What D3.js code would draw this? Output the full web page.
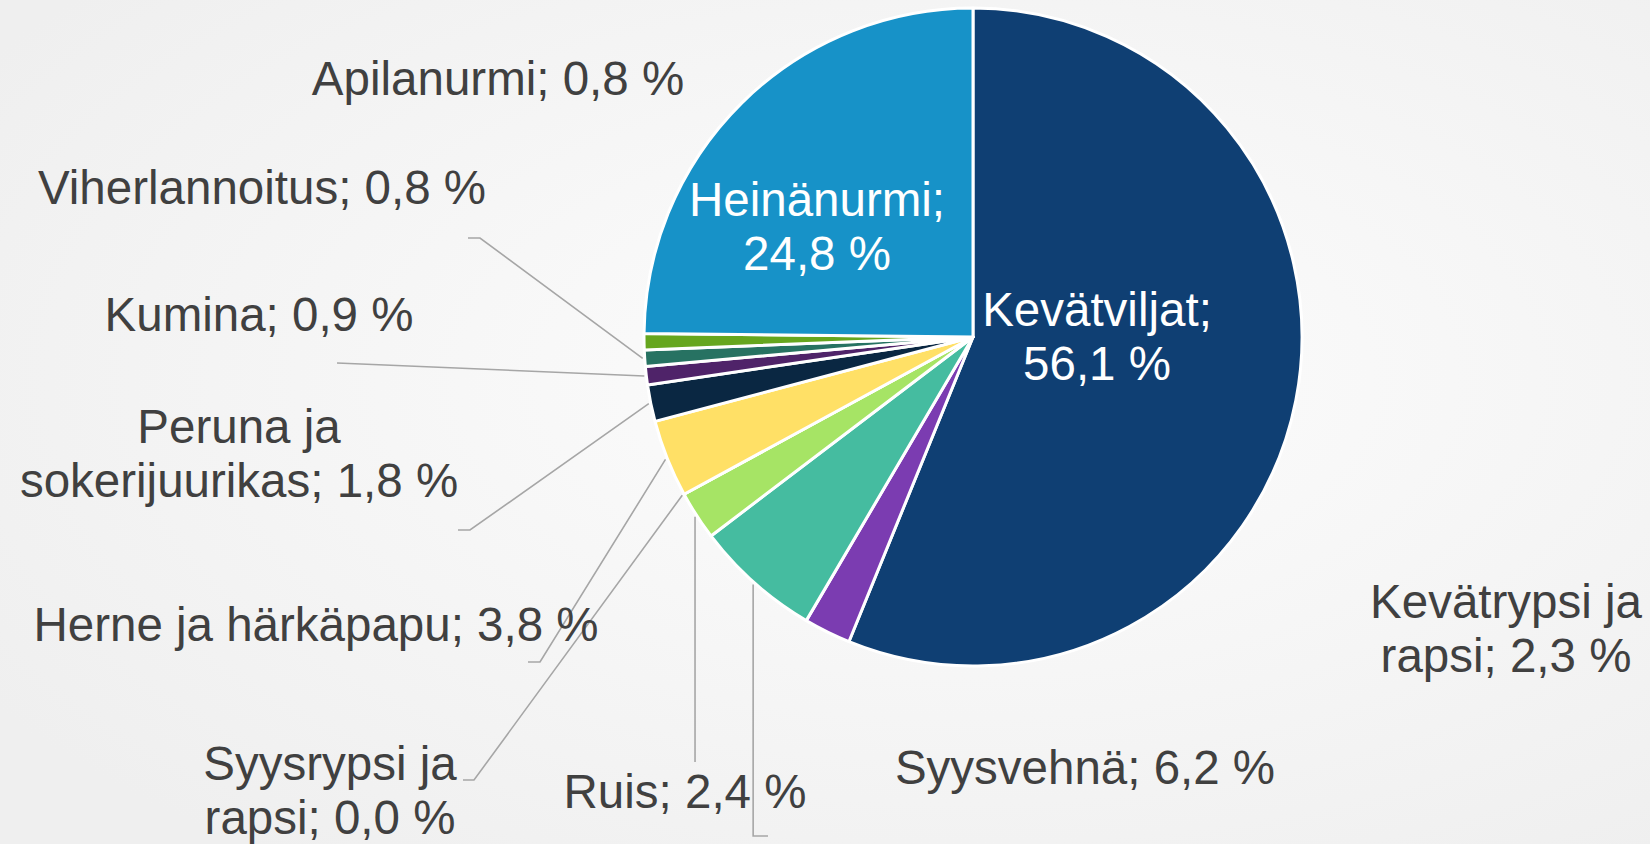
<!DOCTYPE html>
<html>
<head>
<meta charset="utf-8">
<script src="https://cdn.jsdelivr.net/npm/d3@7"></script>
<style>
  html, body { margin: 0; padding: 0; overflow: hidden; }
  svg { display: block; }
</style>
</head>
<body>
<script>

// data
var categories = ["Kevätviljat", "Kevätrypsi ja rapsi", "Syysvehnä", "Ruis", "Syysrypsi ja rapsi",
    "Herne ja härkäpapu", "Peruna ja sokerijuurikas", "Kumina", "Viherlannoitus", "Apilanurmi", "Heinänurmi"];
var shares = [56.1, 2.3, 6.2, 2.4, 0.0, 3.8, 1.8, 0.9, 0.8, 0.8, 24.8];

// styles
var colors = ["#0f3f73", "#7b3cb1", "#45bca0", "#a6e465", "#5b9bd5",
    "#ffe066", "#0a2742", "#4f2369", "#277262", "#66a61e", "#1792c8"];

// label layout: centre x, first baseline y, words on first line, inside pie?
var labelLayout = [
    { x: 1097, y: 326, split: 1, inside: true },
    { x: 1506, y: 618, split: 2 },
    { x: 1085, y: 784, split: 0 },
    { x: 685, y: 808, split: 0 },
    { x: 330, y: 780, split: 2 },
    { x: 316, y: 641, split: 0 },
    { x: 239, y: 443, split: 2 },
    { x: 259, y: 331, split: 0 },
    { x: 262, y: 204, split: 0 },
    { x: 498, y: 95, split: 0 },
    { x: 817, y: 216, split: 1, inside: true }
];
// leader line bend points (null x = straight down from the slice)
var leaders = [
    null,
    null,
    [[null, 836], [768, 836]],
    [[null, 762]],
    [[474, 780], [463, 780]],
    [[540, 662], [528, 662]],
    [[470, 530], [458, 530]],
    [[337, 363]],
    [[480, 238], [468, 238]],
    null,
    null
];

var width = 1650, height = 844;
var cx = 973, cy = 337, radius = 329;

var svg = d3.select("body").append("svg")
    .attr("width", width)
    .attr("height", height);

// soft background
var grad = svg.append("defs").append("radialGradient")
    .attr("id", "bg").attr("cx", "58%").attr("cy", "45%").attr("r", "70%");
grad.append("stop").attr("offset", "0%").attr("stop-color", "#fdfdfd");
grad.append("stop").attr("offset", "100%").attr("stop-color", "#efefef");
svg.append("rect").attr("width", width).attr("height", height).attr("fill", "url(#bg)");

var pie = d3.pie().sort(null).value(function(d) { return d; });
var arcs = pie(shares);

var arc = d3.arc().innerRadius(0).outerRadius(radius);

var pie_g = svg.append("g")
    .attr("transform", "translate(" + cx + "," + cy + ")");

pie_g.selectAll("path.slice").data(arcs).enter().append("path")
    .attr("class", "slice")
    .attr("d", arc)
    .attr("fill", function(d, i) { return colors[i]; })
    .attr("stroke", "#ffffff")
    .attr("stroke-width", 3)
    .attr("stroke-linejoin", "round");

// leader lines
var edgePoint = function(d) {
    var a = (d.startAngle + d.endAngle) / 2;
    var r = radius + 2;
    return [cx + r * Math.sin(a), cy - r * Math.cos(a)];
};

var line = d3.line();

arcs.forEach(function(d, i) {
    if (!leaders[i]) return;
    var start = edgePoint(d);
    var pts = [start];
    leaders[i].forEach(function(p) {
        pts.push([p[0] === null ? start[0] : p[0], p[1]]);
    });
    svg.append("path")
        .attr("d", line(pts))
        .attr("fill", "none")
        .attr("stroke", "#a6a6a6")
        .attr("stroke-width", 1.6);
});

// labels
var fmt = function(v) { return d3.format(".1f")(v).replace(".", ","); };

categories.forEach(function(name, i) {
    var lay = labelLayout[i];
    var words = (name + "; " + fmt(shares[i]) + " %").split(" ");
    var lines = lay.split > 0
        ? [words.slice(0, lay.split).join(" "), words.slice(lay.split).join(" ")]
        : [words.join(" ")];
    var t = svg.append("text")
        .attr("text-anchor", "middle")
        .attr("font-family", "'Liberation Sans', Arial, sans-serif")
        .attr("font-size", "47.5px")
        .attr("fill", lay.inside ? "#ffffff" : "#404040");
    lines.forEach(function(s, k) {
        t.append("tspan")
            .attr("x", lay.x)
            .attr("y", lay.y + k * 54)
            .text(s);
    });
});

</script>
</body>
</html>
